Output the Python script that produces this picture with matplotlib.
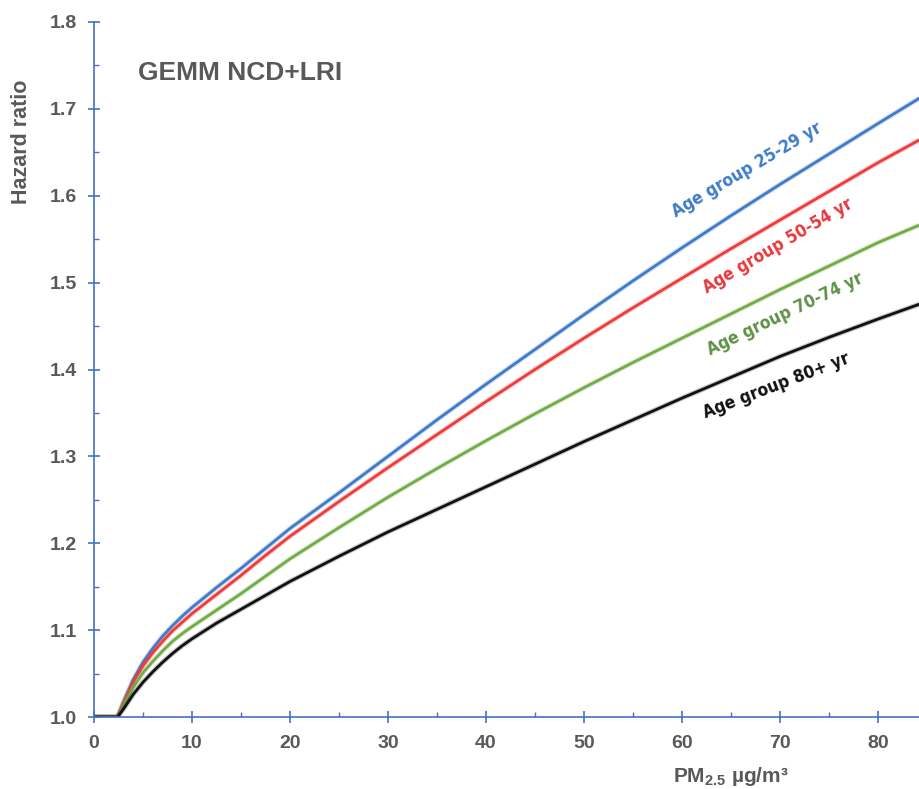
import matplotlib
matplotlib.use("Agg")
import matplotlib.pyplot as plt
from matplotlib.ticker import MultipleLocator, FormatStrFormatter

# PM2.5 concentration (ug/m3)
pm25 = [0, 2.4, 3, 4, 5, 6, 7, 8, 9, 10, 12.5, 15, 17.5, 20, 25, 30, 35, 40,
        45, 50, 55, 60, 65, 70, 75, 80, 84.2]

hr_25_29 = [1.0, 1.0, 1.017, 1.043, 1.063, 1.079, 1.093, 1.105, 1.116, 1.126,
            1.149, 1.171, 1.194, 1.217, 1.258, 1.300, 1.342, 1.383, 1.423,
            1.463, 1.502, 1.540, 1.577, 1.613, 1.648, 1.683, 1.712]
hr_50_54 = [1.0, 1.0, 1.016, 1.040, 1.059, 1.074, 1.087, 1.099, 1.109, 1.119,
            1.141, 1.163, 1.186, 1.208, 1.248, 1.287, 1.325, 1.363, 1.400,
            1.436, 1.471, 1.505, 1.539, 1.572, 1.605, 1.638, 1.664]
hr_70_74 = [1.0, 1.0, 1.013, 1.034, 1.051, 1.064, 1.076, 1.087, 1.096, 1.104,
            1.123, 1.142, 1.162, 1.182, 1.218, 1.253, 1.286, 1.318, 1.349,
            1.379, 1.408, 1.436, 1.464, 1.492, 1.519, 1.546, 1.566]
hr_80 = [1.0, 1.0, 1.009, 1.026, 1.040, 1.052, 1.063, 1.073, 1.082, 1.090,
         1.108, 1.124, 1.140, 1.156, 1.185, 1.213, 1.239, 1.265, 1.291,
         1.317, 1.342, 1.367, 1.391, 1.415, 1.437, 1.458, 1.475]

series = [
    ("Age group 25-29 yr", hr_25_29, "#3F7BC9", "#3F7BC9", 66.6, 30.5),
    ("Age group 50-54 yr", hr_50_54, "#EE3B3B", "#E8383D", 69.8, 30.5),
    ("Age group 70-74 yr", hr_70_74, "#70AD47", "#5F9147", 70.5, 25.5),
    ("Age group 80+ yr", hr_80, "#111111", "#111111", 69.6, 21.0),
]
label_y = [1.630, 1.542, 1.464, 1.381]

axis_blue = "#4472C4"
grey = "#595959"

plt.rcParams['font.family'] = ['Liberation Sans', 'DejaVu Sans']
plt.rcParams['mathtext.fontset'] = 'custom'
plt.rcParams['mathtext.rm'] = 'Liberation Sans:bold'
plt.rcParams['mathtext.it'] = 'Liberation Sans:bold'
plt.rcParams['mathtext.bf'] = 'Liberation Sans:bold'

fig = plt.figure(figsize=(9.19, 7.89), dpi=100)
ax = fig.add_axes([94 / 919, 72 / 789, 825 / 919, 695 / 789])

for (name, vals, col, tcol, lx, rot), ly in zip(series, label_y):
    ax.plot(pm25, vals, color=col, lw=3.6, alpha=0.25, solid_capstyle='butt')
    ax.plot(pm25, vals, color=col, lw=2.0)
    ax.text(lx, ly, name, color=tcol, rotation=rot, rotation_mode='anchor',
            ha='center', va='center', fontsize=12.5, fontweight='bold',
            family='DejaVu Sans', fontstretch='condensed')

ax.set_xlim(0, 84.2)
ax.set_ylim(1.0, 1.8)
ax.xaxis.set_major_locator(MultipleLocator(10))
ax.xaxis.set_minor_locator(MultipleLocator(5))
ax.yaxis.set_major_locator(MultipleLocator(0.1))
ax.yaxis.set_minor_locator(MultipleLocator(0.05))
ax.yaxis.set_major_formatter(FormatStrFormatter('%.1f'))

for s in ['top', 'right']:
    ax.spines[s].set_visible(False)
for s in ['left', 'bottom']:
    ax.spines[s].set_color(axis_blue)
    ax.spines[s].set_linewidth(1.2)

ax.tick_params(which='major', direction='inout', length=8.5, width=1.2,
               color=axis_blue, labelsize=14, labelcolor=grey)
ax.tick_params(axis='y', which='major', pad=8)
ax.tick_params(axis='x', which='major', pad=9)
ax.tick_params(which='minor', direction='in', length=3.6, width=1.0,
               color=axis_blue)
for lab in ax.get_xticklabels() + ax.get_yticklabels():
    lab.set_fontweight('bold')

ax.text(4.5, 1.733, "GEMM NCD+LRI", fontsize=19, fontweight='bold',
        color=grey, ha='left', va='baseline')

fig.text(22 / 919, 1 - 142 / 789, "Hazard ratio", rotation=90, fontsize=15.5,
         fontweight='bold', color=grey, ha='center', va='center')
fig.text(731 / 919, 1 - 776 / 789, r"PM$_{2.5}$ µg/m³", fontsize=15,
         fontweight='bold', color=grey, ha='center', va='center')

fig.savefig("out.png", dpi=100)
